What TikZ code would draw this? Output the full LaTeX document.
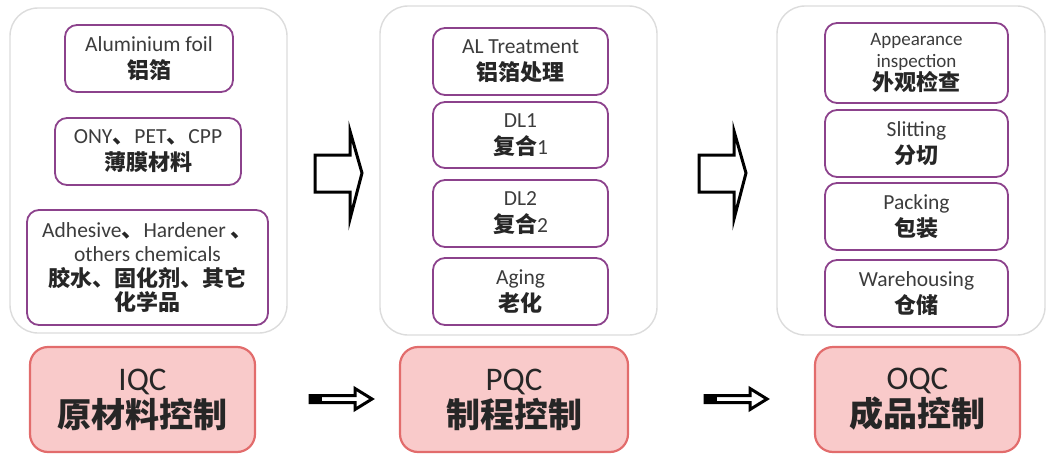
\documentclass[tikz,border=0pt]{standalone}
\usepackage{fontspec}
\setmainfont{Carlito}
\newfontfamily\cjk{Noto Sans CJK SC}
\definecolor{boxpurple}{RGB}{140,66,140}
\definecolor{contgray}{RGB}{220,220,220}
\definecolor{qcfill}{RGB}{249,202,202}
\definecolor{qcdraw}{RGB}{226,108,108}
\definecolor{txt}{RGB}{60,60,60}
\newcommand\zh[1]{{\cjk\bfseries\color{black!85}\fontsize{22}{27}\selectfont #1}}
\newcommand\zhbig[1]{{\cjk\bfseries\fontsize{34}{38}\selectfont #1}}
\begin{document}
\begin{tikzpicture}[x=1pt,y=-1pt,
  container/.style={draw=contgray, line width=1.4pt, rounded corners=28pt, fill=white, inner sep=0pt},
  item/.style={draw=boxpurple, line width=1.8pt, rounded corners=12pt, align=center, inner sep=0pt, text=txt, font=\fontsize{21.5}{27}\selectfont},
  qc/.style={draw=qcdraw, fill=qcfill, line width=2.2pt, rounded corners=18pt, align=center, inner sep=0pt, text=black!85, font=\fontsize{33}{37}\selectfont, minimum height=105pt},
  bigarrow/.style={draw=black, fill=white, line width=3pt},
  smallarrow/.style={draw=black, fill=white, line width=3pt}
]
\useasboundingbox (0,0) rectangle (1049,460);

% containers
\node[container, minimum width=277pt, minimum height=325pt] (cl) at (148.5,170.5) {};
\node[container, minimum width=277pt, minimum height=329pt] (cm) at (518.5,170.5) {};
\node[container, minimum width=268pt, minimum height=329pt] (cr) at (911,170.5) {};

% left items
\node[item, minimum width=168pt, minimum height=67pt] (a1) at (149,58.5) {Aluminium foil\\\zh{铝箔}};
\node[item, minimum width=186pt, minimum height=67pt] (a2) at (148,151.5) {ONY\zh{、}PET\zh{、}CPP\\\zh{薄膜材料}};
\node[item, minimum width=241pt, minimum height=115pt, font=\fontsize{21.5}{24.5}\selectfont] (a3) at (147.5,267.5) {Adhesive\zh{、}Hardener \zh{、}\\others chemicals\\\zh{胶水、固化剂、其它}\\\zh{化学品}};

% middle items
\node[item, minimum width=175pt, minimum height=67pt] (b1) at (520.5,61.5) {AL Treatment\\\zh{铝箔处理}};
\node[item, minimum width=175pt, minimum height=66pt] (b2) at (520.5,135) {DL1\\\zh{复合}1};
\node[item, minimum width=175pt, minimum height=67pt] (b3) at (520.5,213.5) {DL2\\\zh{复合}2};
\node[item, minimum width=175pt, minimum height=67pt] (b4) at (520.5,291.5) {Aging\\\zh{老化}};

% right items
\node[item, minimum width=183pt, minimum height=80pt, font=\fontsize{19}{21.5}\selectfont] (c1) at (916.5,63) {Appearance\\inspection\\\zh{外观检查}};
\node[item, minimum width=183pt, minimum height=67pt] (c2) at (916.5,143.5) {Slitting\\\zh{分切}};
\node[item, minimum width=183pt, minimum height=67pt] (c3) at (916.5,216.5) {Packing\\\zh{包装}};
\node[item, minimum width=183pt, minimum height=67pt] (c4) at (916.5,293.5) {Warehousing\\\zh{仓储}};

% QC boxes
\node[qc, minimum width=225pt] (iqc) at (142.5,399.5) {IQC\\\zhbig{原材料控制}};
\node[qc, minimum width=228pt] (pqc) at (514,399.5) {PQC\\\zhbig{制程控制}};
\node[qc, minimum width=205pt] (oqc) at (917.5,399.5) {OQC\\\zhbig{成品控制}};

% big hollow arrows
\foreach \dx/\nm in {0/ba1, 384/ba2}{
  \begin{scope}[xshift=\dx pt]
    \coordinate (\nm) at (315,155);
    \draw[bigarrow] (315,155) -- (350,155) -- (350,131) -- (362,173) -- (350,219) -- (350,192) -- (315,192) -- cycle;
  \end{scope}
}

% small arrows
\foreach \dx/\nm in {0/sa1, 395/sa2}{
  \begin{scope}[xshift=\dx pt]
    \coordinate (\nm) at (309,393);
    \draw[smallarrow] (310,395.5) -- (355,395.5) -- (355,388.5) -- (372,399) -- (355,409.5) -- (355,402.5) -- (310,402.5) -- cycle;
    \fill[black] (308.5,394) rectangle (322,404);
  \end{scope}
}
\end{tikzpicture}
\end{document}
